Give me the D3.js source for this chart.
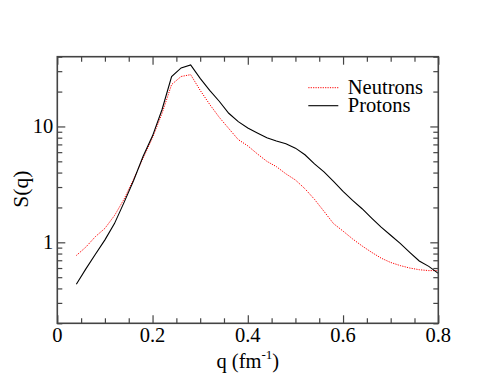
<!DOCTYPE html>
<html>
<head>
<meta charset="utf-8">
<script src="https://cdn.jsdelivr.net/npm/d3@7"></script>
<style>
  body { margin: 0; background: #fff; }
</style>
</head>
<body>
<div class="chart-wrapper"></div>
<script>
const qValues = [0.04, 0.06, 0.08, 0.10, 0.12, 0.14, 0.16, 0.18, 0.20, 0.22,
    0.24, 0.26, 0.28, 0.30, 0.32, 0.34, 0.36, 0.38, 0.40, 0.42,
    0.44, 0.46, 0.48, 0.50, 0.52, 0.54, 0.56, 0.58, 0.60, 0.62,
    0.64, 0.66, 0.68, 0.70, 0.72, 0.74, 0.76, 0.78, 0.80];
const neutrons = [0.77, 0.91, 1.12, 1.32, 1.7, 2.35, 3.5, 5.3, 8.0, 13,
    23, 27, 28, 20.5, 15.5, 12, 9.6, 7.7, 6.8, 5.8,
    5.0, 4.5, 3.9, 3.45, 2.9, 2.35, 1.85, 1.45, 1.25, 1.07,
    0.93, 0.82, 0.73, 0.67, 0.63, 0.6, 0.58, 0.57, 0.57];
const protons = [0.435, 0.59, 0.79, 1.05, 1.45, 2.2, 3.4, 5.5, 8.3, 14,
    27, 32, 34, 26, 20.5, 16.5, 13, 11, 9.7, 8.8,
    8.0, 7.5, 7.1, 6.5, 5.7, 4.75, 4.05, 3.35, 2.75, 2.3,
    1.95, 1.62, 1.35, 1.15, 0.98, 0.82, 0.69, 0.62, 0.54];
const xTickLabels = [0, 0.2, 0.4, 0.6, 0.8];
const yTickLabels = [1, 10];
const yMinorTicks = [0.2, 0.3, 0.4, 0.5, 0.6, 0.7, 0.8, 0.9, 2, 3, 4, 5, 6, 7, 8, 9, 20, 30, 40];
const xMinorTicks = [0.05, 0.1, 0.15, 0.25, 0.3, 0.35, 0.45, 0.5, 0.55, 0.65, 0.7, 0.75];

const series = [
    {name: 'Neutrons', values: neutrons, color: '#ff0000', dash: '1.2,1.2', width: 1},
    {name: 'Protons', values: protons, color: '#000000', dash: null, width: 1.1},
];

const dims = {
    width: 493,
    height: 381,
    margin: {top: 56.7, right: 54.7, bottom: 57.7, left: 57.3},
};
dims.boundedWidth = dims.width - dims.margin.left - dims.margin.right;
dims.boundedHeight = dims.height - dims.margin.top - dims.margin.bottom;

const wrapper = d3.select('.chart-wrapper')
    .append('svg')
    .attr('width', dims.width)
    .attr('height', dims.height);

const bounds = wrapper.append('g')
    .attr('transform', `translate(${dims.margin.left}, ${dims.margin.top})`);

const xScale = d3.scaleLinear()
    .domain([0, 0.8])
    .range([0, dims.boundedWidth]);

const yScale = d3.scaleLog()
    .domain([0.2, 40])
    .range([dims.boundedHeight, 0]);

const axisColor = '#444';
const fontFamily = '"Liberation Serif", "Times New Roman", serif';
const fontSize = 20.5;

// lines
const lineGenerator = d3.line()
    .x(d => xScale(d.q))
    .y(d => yScale(d.v));

series.forEach(s => {
    const lineData = qValues.map((q, i) => ({q: q, v: s.values[i]}));
    bounds.append('path')
        .attr('d', lineGenerator(lineData))
        .attr('fill', 'none')
        .attr('stroke', s.color)
        .attr('stroke-width', s.width)
        .attr('stroke-dasharray', s.dash);
});

// axes, ticks pointing inward on all four sides
const styleAxis = g => {
    g.select('.domain').remove();
    g.selectAll('line').attr('stroke', axisColor).attr('stroke-width', 1.2);
};

bounds.append('g')
    .attr('transform', `translate(0, ${dims.boundedHeight})`)
    .call(d3.axisBottom(xScale).tickValues(xTickLabels).tickSizeInner(-8).tickFormat(''))
    .call(styleAxis);
bounds.append('g')
    .attr('transform', `translate(0, ${dims.boundedHeight})`)
    .call(d3.axisBottom(xScale).tickValues(xMinorTicks).tickSizeInner(-5).tickFormat(''))
    .call(styleAxis);
bounds.append('g')
    .call(d3.axisTop(xScale).tickValues(xTickLabels).tickSizeInner(-8).tickFormat(''))
    .call(styleAxis);
bounds.append('g')
    .call(d3.axisTop(xScale).tickValues(xMinorTicks).tickSizeInner(-5).tickFormat(''))
    .call(styleAxis);
bounds.append('g')
    .call(d3.axisLeft(yScale).tickValues(yTickLabels).tickSizeInner(-8).tickFormat(''))
    .call(styleAxis);
bounds.append('g')
    .call(d3.axisLeft(yScale).tickValues(yMinorTicks).tickSizeInner(-5).tickFormat(''))
    .call(styleAxis);
bounds.append('g')
    .attr('transform', `translate(${dims.boundedWidth}, 0)`)
    .call(d3.axisRight(yScale).tickValues(yTickLabels).tickSizeInner(-8).tickFormat(''))
    .call(styleAxis);
bounds.append('g')
    .attr('transform', `translate(${dims.boundedWidth}, 0)`)
    .call(d3.axisRight(yScale).tickValues(yMinorTicks).tickSizeInner(-5).tickFormat(''))
    .call(styleAxis);

// frame
bounds.append('rect')
    .attr('width', dims.boundedWidth)
    .attr('height', dims.boundedHeight)
    .attr('fill', 'none')
    .attr('stroke', axisColor)
    .attr('stroke-width', 1.6);

// text helper
const addText = (x, y, str, anchor, size, rotate) => {
    return bounds.append('text')
        .attr('transform', `translate(${x}, ${y})` + (rotate ? ` rotate(${rotate})` : ''))
        .attr('text-anchor', anchor)
        .attr('font-family', fontFamily)
        .attr('font-size', size)
        .attr('fill', '#000')
        .text(str);
};

xTickLabels.forEach(d => {
    addText(xScale(d), dims.boundedHeight + 18.4, d3.format('')(d), 'middle', fontSize);
});
yTickLabels.forEach(d => {
    addText(-4, yScale(d) + 7, d, 'end', fontSize);
});

// axis titles
const xTitle = addText(dims.boundedWidth / 2, dims.boundedHeight + 44.5, '', 'middle', fontSize);
xTitle.append('tspan').text('q (fm');
xTitle.append('tspan').attr('dy', -9).attr('font-size', 13).text('-1');
xTitle.append('tspan').attr('dy', 9).text(')');

addText(-29, 132.5, 'S(q)', 'middle', 21.5, -90);

// legend
const legendX = 251;
series.forEach((s, i) => {
    const y = 31 + i * 18;
    bounds.append('line')
        .attr('x1', legendX)
        .attr('x2', legendX + 30)
        .attr('y1', y)
        .attr('y2', y)
        .attr('stroke', s.color)
        .attr('stroke-width', s.width)
        .attr('stroke-dasharray', s.dash);
    addText(legendX + 39.5, y + 6.5, s.name, 'start', fontSize);
});
</script>
</body>
</html>
